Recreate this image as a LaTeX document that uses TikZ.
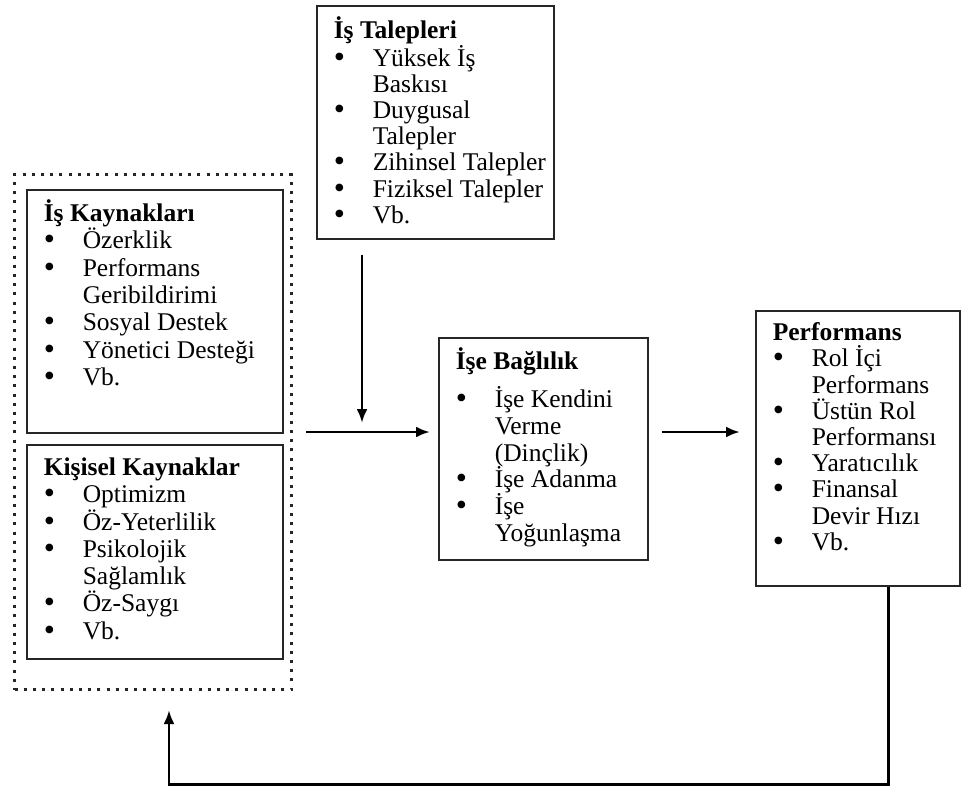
\documentclass[tikz,border=0pt]{standalone}
\usepackage{fontspec}
\setmainfont{Liberation Serif}
\usetikzlibrary{arrows.meta}
\newcommand\blt{\makebox[39pt][l]{\raisebox{-1pt}{\scalebox{1.25}{\textbullet}}}}
\newcommand\ind{\hspace*{39pt}}
\begin{document}
\begin{tikzpicture}[x=1pt,y=-1pt,font=\fontsize{25.5}{26.2}\selectfont]
\tikzstyle{Box} = [draw=black!85, line width=1.6pt, anchor=north west, inner xsep=17pt, inner ysep=10pt, fill=white]
\tikzstyle{Wide} = [font=\fontsize{25.5}{27.3}\selectfont]
\tikzstyle{Dots} = [draw=black!85, line width=3pt, dash pattern=on 3pt off 6.2pt, anchor=north west, inner sep=0pt]
\tikzstyle{Arr} = [line width=2.8pt, -{Latex[length=14pt,width=11pt]}]
\useasboundingbox (0,0) rectangle (961,787);
\node (outer) at (13,173) [Dots, minimum width=277pt, minimum height=515pt] {};
\node (talep) at (316,5) [Box, inner ysep=11pt] {\parbox[t][211pt][t]{203pt}{\raggedright
  \textbf{İş Talepleri}\\ \blt Yüksek İş\\ \ind Baskısı\\ \blt Duygusal\\ \ind Talepler\\
  \mbox{\blt Zihinsel Talepler}\\ \mbox{\blt Fiziksel Talepler}\\ \blt Vb.}};
\node (kaynak) at (26,189) [Box, Wide] {\parbox[t][223pt][t]{222pt}{\raggedright
  \textbf{İş Kaynakları}\\ \blt Özerklik\\ \blt Performans\\ \ind Geribildirimi\\
  \blt Sosyal Destek\\ \blt Yönetici Desteği\\ \blt Vb.}};
\node (kisisel) at (26,444) [Box, Wide, inner ysep=13pt] {\parbox[t][188pt][t]{222pt}{\raggedright
  \textbf{Kişisel Kaynaklar}\\ \blt Optimizm\\ \blt Öz-Yeterlilik\\ \blt Psikolojik\\
  \ind Sağlamlık\\ \blt Öz-Saygı\\ \blt Vb.}};
\node (baglilik) at (438,337) [Box, font=\fontsize{25.5}{26.8}\selectfont] {\parbox[t][202pt][t]{175pt}{\raggedright
  \textbf{İşe Bağlılık}\\[11pt] \blt İşe Kendini\\ \ind Verme\\ \ind (Dinçlik)\\
  \blt İşe Adanma\\ \blt İşe\\ \ind Yoğunlaşma}};
\node (perf) at (755,310) [Box, inner ysep=12pt] {\parbox[t][251pt][t]{170pt}{\raggedright
  \textbf{Performans}\\ \blt Rol İçi\\ \ind Performans\\ \blt Üstün Rol\\ \ind Performansı\\
  \blt Yaratıcılık\\ \blt Finansal\\ \ind Devir Hızı\\ \blt Vb.}};
\coordinate (vtop) at ([xshift=46pt,yshift=-15pt]talep.south west);
\draw[Arr] ([xshift=13pt]outer.east) -- ([xshift=-8pt]outer.east -| baglilik.west);
\draw[Arr] (vtop) -- ([yshift=9pt]outer.east -| vtop);
\draw[Arr] ([xshift=13pt]baglilik.east |- outer.east) -- ([xshift=-15pt]perf.west |- outer.east);
\draw[Arr] ([xshift=31pt]perf.south) -- ++(0,198) -| ([xshift=16pt,yshift=-19pt]outer.south);
\end{tikzpicture}
\end{document}
